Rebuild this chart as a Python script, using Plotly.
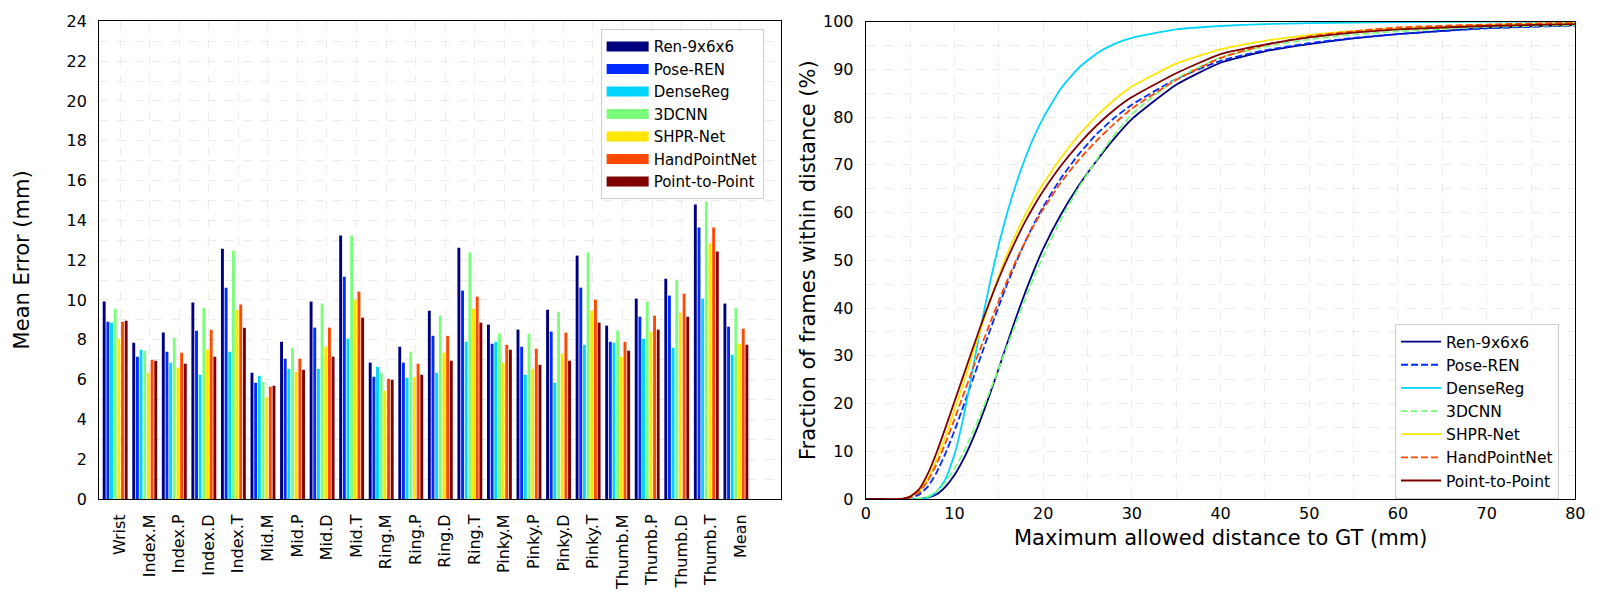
import plotly.graph_objects as go

joints = ["Wrist", "Index.M", "Index.P", "Index.D", "Index.T", "Mid.M", "Mid.P", "Mid.D", "Mid.T",
          "Ring.M", "Ring.P", "Ring.D", "Ring.T", "Pinky.M", "Pinky.P", "Pinky.D", "Pinky.T",
          "Thumb.M", "Thumb.P", "Thumb.D", "Thumb.T", "Mean"]

methods = ["Ren-9x6x6", "Pose-REN", "DenseReg", "3DCNN", "SHPR-Net", "HandPointNet", "Point-to-Point"]
colors = ["#00007f", "#002bff", "#00d4ff", "#7bff7b", "#ffe600", "#ff4800", "#7f0000"]
dashes = ["solid", "dash", "solid", "dash", "solid", "dash", "solid"]

# mean error per joint (mm)
err_ren = [9.92, 7.85, 8.36, 9.87, 12.58, 6.34, 7.90, 9.92, 13.24, 6.85, 7.65, 9.46, 12.63, 8.76, 8.51, 9.51, 12.23, 8.71, 10.07, 11.07, 14.80, 9.82]
err_pose = [8.91, 7.15, 7.40, 8.46, 10.62, 5.84, 7.05, 8.61, 11.17, 6.14, 6.85, 8.20, 10.47, 7.80, 7.65, 8.41, 10.62, 7.90, 9.16, 10.22, 13.64, 8.66]
err_dense = [8.86, 7.50, 6.85, 6.24, 7.40, 6.19, 6.54, 6.54, 8.05, 6.64, 6.09, 6.34, 7.90, 7.90, 6.24, 5.84, 7.75, 7.85, 8.05, 7.60, 10.07, 7.25]
err_3dcnn = [9.56, 7.45, 8.10, 9.61, 12.48, 5.89, 7.60, 9.82, 13.24, 6.34, 7.40, 9.21, 12.38, 8.31, 8.31, 9.41, 12.38, 8.46, 9.92, 11.02, 14.95, 9.61]
err_shpr = [8.05, 6.34, 6.59, 7.50, 9.51, 5.13, 6.39, 7.65, 10.02, 5.44, 6.14, 7.35, 9.56, 6.85, 6.54, 7.30, 9.46, 7.15, 8.41, 9.36, 12.84, 7.80]
err_hpn = [8.91, 7.00, 7.35, 8.51, 9.77, 5.64, 7.05, 8.61, 10.42, 6.04, 6.80, 8.20, 10.17, 7.75, 7.55, 8.36, 10.02, 7.90, 9.21, 10.32, 13.64, 8.56]
err_p2p = [8.96, 6.95, 6.80, 7.15, 8.61, 5.69, 6.49, 7.15, 9.11, 5.99, 6.24, 6.95, 8.86, 7.50, 6.74, 6.95, 8.86, 7.45, 8.51, 9.16, 12.43, 7.75]

# fraction of frames within distance (%)
dist = [0, 2, 4, 5, 6, 7, 8, 9, 10, 11, 12, 13, 14, 15, 16, 17, 18, 19, 20, 22, 24, 26, 28, 30, 35, 40, 45, 50, 55, 60, 70, 80]
frac_ren = [0, 0, 0, 0, 0, 0.3, 1, 2.6, 5, 8.3, 12.3, 16.9, 22, 27.4, 32.9, 38.3, 43.4, 48.1, 52.4, 59.6, 65.6, 70.8, 75.5, 79.6, 86.8, 91.4, 93.8, 95.3, 96.5, 97.4, 98.7, 99.3]
frac_pose = [0, 0, 0, 0.2, 0.9, 2.6, 5.6, 9.6, 14.3, 19.4, 24.7, 30, 35.3, 40.4, 45.3, 49.8, 54, 57.8, 61.2, 67.2, 72.2, 76.4, 79.8, 82.6, 88, 91.8, 94, 95.5, 96.6, 97.4, 98.6, 99.2]
frac_dense = [0, 0, 0, 0, 0, 0.3, 1.5, 4.2, 9.3, 17, 26.6, 36.3, 45.3, 53.3, 60.3, 66.3, 71.5, 76, 79.8, 86, 90.3, 93.3, 95.3, 96.6, 98.4, 99.1, 99.5, 99.7, 99.8, 99.9, 100, 100]
frac_3dcnn = [0, 0, 0, 0, 0.1, 0.5, 1.6, 3.6, 6.3, 9.7, 13.7, 18, 22.6, 27.4, 32.3, 37.2, 42, 46.6, 50.9, 58.6, 65.2, 71, 76.2, 80.6, 88, 92.5, 94.8, 96.3, 97.3, 98, 98.9, 99.3]
frac_shpr = [0, 0, 0, 0.5, 1.6, 4.3, 8.3, 13.2, 18.6, 24.2, 30, 35.8, 41.4, 46.8, 51.5, 55.8, 59.6, 63, 66, 71.5, 76.2, 80.2, 83.6, 86.4, 91.2, 94.2, 96, 97.2, 98, 98.6, 99.3, 99.7]
frac_hpn = [0, 0, 0, 0.3, 1.4, 3.8, 7.4, 11.8, 16.7, 21.8, 26.9, 31.9, 36.8, 41.5, 46, 50.2, 54, 57.5, 60.7, 66.3, 71, 75, 78.6, 81.8, 87.8, 92.4, 95.1, 96.9, 98, 98.8, 99.4, 99.8]
frac_p2p = [0, 0, 0, 0.5, 2, 5.3, 9.8, 15, 20.4, 25.8, 31.2, 36.5, 41.5, 46.2, 50.5, 54.5, 58.2, 61.5, 64.5, 69.8, 74.3, 78.2, 81.5, 84.2, 89.2, 93.2, 95.2, 96.7, 97.7, 98.4, 99.1, 99.5]

errors = [err_ren, err_pose, err_dense, err_3dcnn, err_shpr, err_hpn, err_p2p]
fracs = [frac_ren, frac_pose, frac_dense, frac_3dcnn, frac_shpr, frac_hpn, frac_p2p]

FONT = "DejaVu Sans"
GRID = "#ececec"

fig = go.Figure()

for i, name in enumerate(methods):
    fig.add_trace(go.Bar(
        x=joints, y=errors[i], name=name, showlegend=False,
        marker_color=colors[i], marker_line_width=0,
        width=0.098, offset=-0.585 + 0.124 * i,
        xaxis="x", yaxis="y",
    ))
    # legend proxy: a thick line looks like matplotlib's wide bar patch
    fig.add_trace(go.Scatter(
        x=[None], y=[None], name=name, mode="lines",
        line=dict(color=colors[i], width=11),
        xaxis="x", yaxis="y", legend="legend",
    ))

for i, name in enumerate(methods):
    fig.add_trace(go.Scatter(
        x=dist, y=fracs[i], name=name, mode="lines",
        line=dict(color=colors[i], width=1.8, dash="7px,3px" if dashes[i] == "dash" else "solid",
                  shape="spline", smoothing=0.5),
        xaxis="x2", yaxis="y2", legend="legend2",
    ))

axis_common = dict(showline=True, linecolor="black", linewidth=1, mirror=True, ticks="",
                   zeroline=False, showgrid=True, gridcolor=GRID, gridwidth=1.3, griddash="dash",
                   automargin=False, tickfont=dict(family=FONT, size=16, color="black"))
minor_grid = dict(showgrid=True, gridcolor=GRID, gridwidth=1.3, griddash="dash")

# page body adds an 8px offset, positions below are corrected for it
fig.update_layout(
    template="none",
    width=1600, height=600,
    margin=dict(l=0, r=0, t=0, b=0, autoexpand=False),
    paper_bgcolor="white", plot_bgcolor="white",
    font=dict(family=FONT, color="black"),
    barmode="overlay",
    xaxis=dict(domain=[0.0569, 0.4829], anchor="y", range=[-0.71, 22.35], tickangle=-90,
               ticklabelstandoff=8, **axis_common),
    yaxis=dict(domain=[0.1817, 0.9777], anchor="x", range=[0, 24], dtick=2,
               ticklabelstandoff=8, minor=dict(dtick=1, **minor_grid), **axis_common),
    xaxis2=dict(domain=[0.5361, 0.9796], anchor="y2", range=[0, 80], dtick=10,
                ticklabelstandoff=0, minor=dict(dtick=5, **minor_grid), **axis_common),
    yaxis2=dict(domain=[0.1817, 0.9772], anchor="x2", range=[0, 100], dtick=10,
                ticklabelstandoff=8, minor=dict(dtick=5, **minor_grid), **axis_common),
    legend=dict(x=0.3704, y=0.9645, xanchor="left", yanchor="top",
                bgcolor="rgba(255,255,255,0.85)", bordercolor="#cccccc", borderwidth=1,
                font=dict(family=FONT, size=15), itemwidth=42),
    legend2=dict(x=0.8669, y=0.4733, xanchor="left", yanchor="top",
                 bgcolor="rgba(255,255,255,0.85)", bordercolor="#cccccc", borderwidth=1,
                 font=dict(family=FONT, size=15.5), itemwidth=40),
    annotations=[
        dict(text="Mean Error (mm)", x=14.4 / 1600, y=0.58, xref="paper", yref="paper",
             xanchor="center", yanchor="middle",
             textangle=-90, showarrow=False, font=dict(family=FONT, size=21)),
        dict(text="Fraction of frames within distance (%)", x=0.5, y=0.58,
             xref="paper", yref="paper", xanchor="center", yanchor="middle",
             textangle=-90, showarrow=False, font=dict(family=FONT, size=21)),
        dict(text="Maximum allowed distance to GT (mm)", x=0.7578, y=1 - 530 / 600,
             xref="paper", yref="paper", xanchor="center", yanchor="middle",
             showarrow=False, font=dict(family=FONT, size=21)),
    ],
)

fig.write_html("out.html")
